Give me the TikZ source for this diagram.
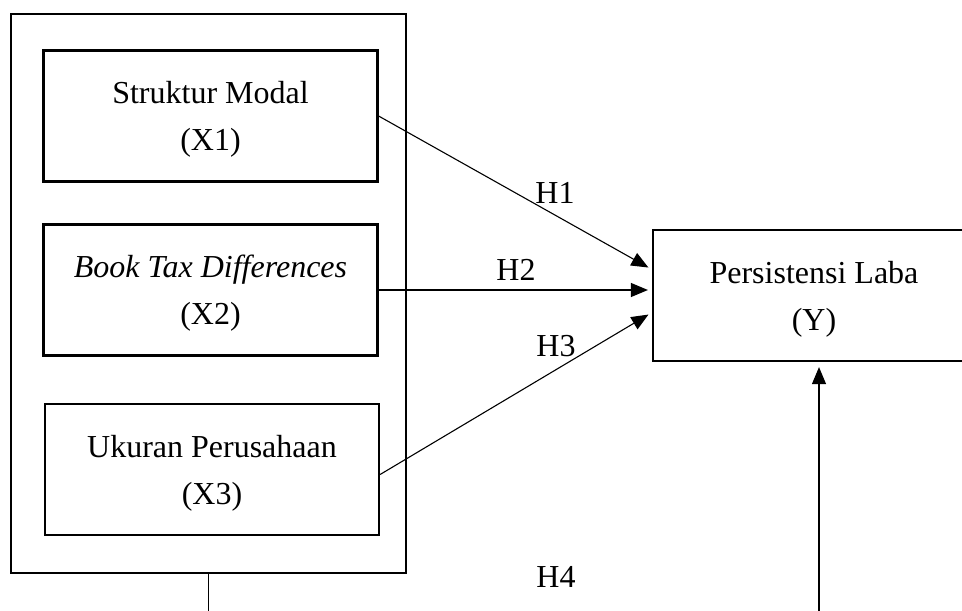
\documentclass[tikz,border=0pt]{standalone}
\usepackage{fontspec}
\setmainfont{Liberation Serif}
\usetikzlibrary{arrows.meta,positioning}
\tikzstyle{frame box}=[draw,line width=1.1pt,minimum width=197.5pt,minimum height=279.5pt,inner sep=0pt]
\tikzstyle{varbox}=[draw,line width=1.1pt,minimum width=167pt,minimum height=65.5pt,inner sep=0pt,align=center,text depth=0pt,font=\fontsize{16}{23.5}\selectfont]
\tikzstyle{hyp}=[inner sep=0pt,font=\fontsize{16}{19}\selectfont]
\tikzstyle{link}=[draw,line width=0.55pt]
\tikzstyle{edge}=[link,-{Triangle[length=8.5pt,width=7pt]},shorten >=2pt]

\begin{document}
\begin{tikzpicture}[x=0.5pt,y=-0.5pt]
    \useasboundingbox (0,0) rectangle (962,610);
    \clip (0,0) rectangle (962,610);
    % the frame round the independent variables
    \node[frame box] (frame) at (208.5,293.5) {};
    % the independent variables
    \foreach \pos/\name/\txt in {{(210.5,116)/x1/Struktur Modal\\(X1)}, {(210.5,290)/x2/{\textit{Book Tax Differences}\\(X2)}}, {(212,469.5)/x3/Ukuran Perusahaan\\(X3)}}
        \node[varbox] (\name) at \pos {\txt};
    % the dependent variable
    \node[varbox,minimum width=161pt] (y) at (814,295.5) {Persistensi Laba\\(Y)};

    % hypotheses
    \foreach \pos/\name/\txt in {{(555,193)/h1/H1}, {(516,270)/h2/H2}, {(556,346)/h3/H3}, {(556,577)/h4/H4}}
        \node[hyp] (\name) at \pos {\txt};

    % Connect variables with arrows
    \path[edge] (x1.east) -- ([yshift=13pt]y.west);
    \path[edge] (x2.east) -- (x2.east -| y.west);
    \path[edge] ([yshift=-2.5pt]x3.east) -- ([yshift=-8.5pt]y.west);

    % H4 runs from the frame to Y below the picture
    \coordinate (foot1) at (208.5,615);
    \coordinate (foot2) at (819,615);
    \path[link] (frame.south) -- (foot1);
    \path[edge,shorten >=2.5pt] (foot2) -- (foot2 |- y.south);
\end{tikzpicture}
\end{document}
